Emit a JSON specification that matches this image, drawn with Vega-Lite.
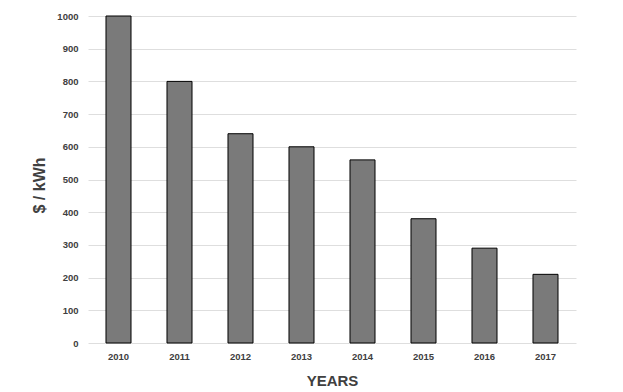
{
  "$schema": "https://vega.github.io/schema/vega-lite/v6.json",
  "autosize": {"type": "none"},
  "padding": {"left": 88, "top": 16, "right": 47, "bottom": 49},
  "width": 488,
  "height": 327,
  "background": "white",
  "data": {"values": [
    {"year": "2010", "cost": 1000},
    {"year": "2011", "cost": 800},
    {"year": "2012", "cost": 640},
    {"year": "2013", "cost": 600},
    {"year": "2014", "cost": 560},
    {"year": "2015", "cost": 380},
    {"year": "2016", "cost": 290},
    {"year": "2017", "cost": 210}
  ]},
  "config": {"view": {"stroke": null}},
  "mark": {"type": "bar", "fill": "#7a7a7a", "stroke": "#000000", "strokeWidth": 1},
  "encoding": {
    "x": {
      "field": "year", "type": "ordinal",
      "scale": {"paddingInner": 0.59, "paddingOuter": 0.295},
      "axis": {
        "title": "YEARS", "labelAngle": 0, "domain": false, "ticks": false,
        "labelFont": "Liberation Sans", "labelFontWeight": "bold", "labelFontSize": 9.5, "labelColor": "#404040",
        "labelPadding": 8,
        "titleFont": "Liberation Sans", "titleFontSize": 15, "titleFontWeight": "bold", "titleColor": "#404040",
        "titleY": 30
      }
    },
    "y": {
      "field": "cost", "type": "quantitative",
      "scale": {"domain": [0, 1000], "nice": false},
      "axis": {
        "title": "$ / kWh", "values": [0,100,200,300,400,500,600,700,800,900,1000], "format": "d",
        "domain": false, "ticks": false,
        "grid": true, "gridColor": "#dedede", "gridWidth": 1,
        "labelFont": "Liberation Sans", "labelFontWeight": "bold", "labelFontSize": 9.5, "labelColor": "#404040",
        "labelPadding": 10,
        "titleFont": "Liberation Sans", "titleFontSize": 16, "titleFontWeight": "bold", "titleColor": "#404040",
        "titleX": -41, "titleY": 169
      }
    }
  }
}
